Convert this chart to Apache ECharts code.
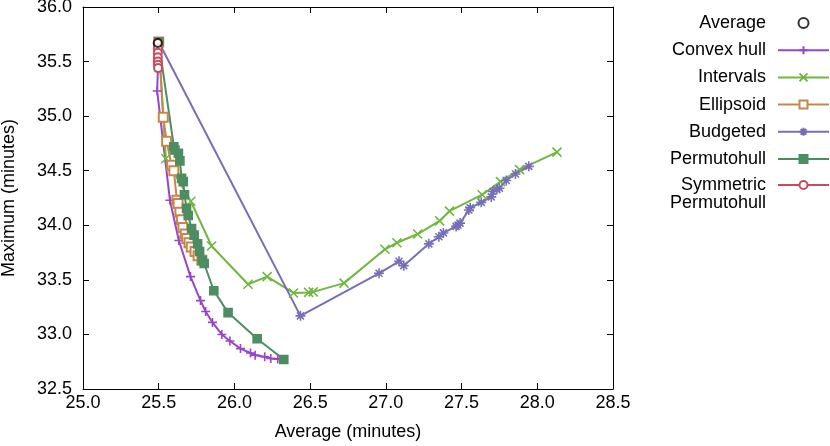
<!DOCTYPE html>
<html>
<head>
<meta charset="utf-8">
<script src="https://cdn.jsdelivr.net/npm/echarts@6/dist/echarts.min.js"></script>
<style>html,body{margin:0;padding:0;background:#fff;}#c{width:830px;height:446px;}</style>
</head>
<body>
<div id="c"></div>
<script>
const seriesNames = ['Average', 'Convex hull', 'Intervals', 'Ellipsoid', 'Budgeted', 'Permutohull', 'Symmetric Permutohull'];
const xTicks = [25.0, 25.5, 26.0, 26.5, 27.0, 27.5, 28.0, 28.5];
const yTicks = [32.5, 33.0, 33.5, 34.0, 34.5, 35.0, 35.5, 36.0];

const averageX = [25.494];
const averageY = [35.67];

const convexX = [25.50, 25.49, 25.574, 25.633, 25.71, 25.776, 25.81, 25.855, 25.917, 25.97, 26.04, 26.106, 26.137, 26.20, 26.24, 26.286, 26.32];
const convexY = [35.68, 35.23, 34.23, 33.86, 33.53, 33.31, 33.21, 33.11, 33.00, 32.94, 32.87, 32.83, 32.81, 32.795, 32.78, 32.775, 32.77];

const intervalsX = [25.50, 25.547, 25.712, 25.849, 26.09, 26.216, 26.39, 26.49, 26.52, 26.724, 26.994, 27.073, 27.21, 27.355, 27.42, 27.636, 27.757, 27.883, 28.13];
const intervalsY = [35.68, 34.61, 34.22, 33.81, 33.46, 33.53, 33.38, 33.385, 33.39, 33.47, 33.78, 33.84, 33.92, 34.04, 34.13, 34.28, 34.40, 34.51, 34.67];

const ellipsoidX = [25.50, 25.53, 25.552, 25.585, 25.60, 25.62, 25.628, 25.64, 25.65, 25.66, 25.675, 25.685, 25.70, 25.715, 25.74, 25.76, 25.785];
const ellipsoidY = [35.68, 34.99, 34.77, 34.55, 34.50, 34.23, 34.20, 34.12, 34.05, 33.98, 33.92, 33.88, 33.84, 33.80, 33.76, 33.72, 33.68];

const budgetedX = [25.50, 26.436, 26.955, 27.087, 27.118, 27.284, 27.35, 27.38, 27.464, 27.476, 27.49, 27.548, 27.557, 27.63, 27.696, 27.707, 27.733, 27.75, 27.795, 27.856, 27.944];
const budgetedY = [35.68, 33.17, 33.56, 33.67, 33.63, 33.83, 33.895, 33.93, 33.99, 34.00, 34.02, 34.14, 34.16, 34.21, 34.26, 34.31, 34.33, 34.34, 34.41, 34.47, 34.54];

const permutoX = [25.50, 25.60, 25.607, 25.63, 25.64, 25.651, 25.662, 25.67, 25.684, 25.695, 25.717, 25.734, 25.757, 25.77, 25.787, 25.80, 25.864, 25.958, 26.15, 26.326];
const permutoY = [35.68, 34.72, 34.69, 34.66, 34.59, 34.43, 34.40, 34.28, 34.155, 34.09, 33.97, 33.91, 33.83, 33.76, 33.68, 33.65, 33.40, 33.20, 32.96, 32.77];

const symPermX = [25.494, 25.494, 25.494, 25.494, 25.494, 25.495, 25.496];
const symPermY = [35.67, 35.62, 35.58, 35.54, 35.50, 35.47, 35.44];

const colors = {
  avg: '#000000', convex: '#9944cc', intervals: '#6fb83f', ellipsoid: '#c8874a',
  budgeted: '#776fb5', permuto: '#4e8c62', sym: '#c94a5c'
};

function zip(xs, ys) { return xs.map((x, i) => [x, ys[i]]); }

const FONT = 'Liberation Sans, Arial, sans-serif';
const FS = 18;

const plusPath = 'path://M0,5L10,5M5,0L5,10';
const crossPath = 'path://M0,0L10,10M10,0L0,10';
const starPath = 'path://M0,5L10,5M5,0L5,10M1.5,1.5L8.5,8.5M8.5,1.5L1.5,8.5';

function lineSeries(name, data, color, symbol, size, stroked, z) {
  return {
    name, type: 'line', data, symbol, symbolSize: size, z: z || 2,
    lineStyle: { color, width: 2 },
    itemStyle: stroked ? { color: 'rgba(0,0,0,0)', borderColor: color, borderWidth: 1.6 } : { color, borderColor: color, borderWidth: 1.6 },
    emphasis: { disabled: true }, animation: false
  };
}

const chart = echarts.init(document.getElementById('c'), null, { renderer: 'canvas' });

const axisCommon = {
  interval: 0.5,
  axisLine: { show: true, lineStyle: { color: '#000', width: 1 } },
  axisTick: { show: true, inside: true, length: 6, lineStyle: { color: '#000', width: 1 } },
  splitLine: { show: false }
};

const legendText = { fontFamily: FONT, fontSize: FS, color: '#000', lineHeight: 18, padding: [0, 7, 0, 0] };

chart.setOption({
  animation: false,
  backgroundColor: '#fff',
  textStyle: { fontFamily: FONT },
  grid: { left: 83, right: 217, top: 7, bottom: 57, containLabel: false, outerBoundsMode: 'none' },
  legend: [
    {
      orient: 'vertical', right: 0, top: 14, padding: 0, align: 'right',
      itemWidth: 51, itemHeight: 10, itemGap: 9.2, selectedMode: false,
      data: seriesNames.slice(0, 6), textStyle: legendText
    },
    {
      orient: 'vertical', right: 0, top: 158, padding: 0, align: 'right',
      itemWidth: 51, itemHeight: 10, itemGap: 9.2, selectedMode: false,
      data: [seriesNames[6]],
      formatter: () => '\nSymmetric\nPermutohull',
      textStyle: legendText
    }
  ],
  xAxis: [
    Object.assign({}, axisCommon, {
      type: 'value', position: 'bottom', min: xTicks[0], max: xTicks[xTicks.length - 1],
      name: 'Average (minutes)', nameLocation: 'middle', nameGap: 34,
      nameTextStyle: { fontFamily: FONT, fontSize: FS, color: '#000' },
      axisLabel: { fontFamily: FONT, fontSize: FS, color: '#000', margin: 5, formatter: v => v.toFixed(1) }
    }),
    Object.assign({}, axisCommon, {
      type: 'value', position: 'top', min: xTicks[0], max: xTicks[xTicks.length - 1],
      axisLabel: { show: false }
    })
  ],
  yAxis: [
    Object.assign({}, axisCommon, {
      type: 'value', position: 'left', min: yTicks[0], max: yTicks[yTicks.length - 1],
      name: 'Maximum (minutes)', nameLocation: 'middle', nameGap: 65,
      nameTextStyle: { fontFamily: FONT, fontSize: FS, color: '#000' },
      axisLabel: { fontFamily: FONT, fontSize: FS, color: '#000', margin: 11, formatter: v => v.toFixed(1) }
    }),
    Object.assign({}, axisCommon, {
      type: 'value', position: 'right', min: yTicks[0], max: yTicks[yTicks.length - 1],
      axisLabel: { show: false }
    })
  ],
  series: [
    lineSeries(seriesNames[1], zip(convexX, convexY), colors.convex, plusPath, 9, true),
    lineSeries(seriesNames[2], zip(intervalsX, intervalsY), colors.intervals, crossPath, 9, true),
    lineSeries(seriesNames[3], zip(ellipsoidX, ellipsoidY), colors.ellipsoid, 'emptyRect', 9, false),
    lineSeries(seriesNames[4], zip(budgetedX, budgetedY), colors.budgeted, starPath, 10, true),
    lineSeries(seriesNames[5], zip(permutoX, permutoY), colors.permuto, 'rect', 8, false),
    lineSeries(seriesNames[6], zip(symPermX, symPermY), colors.sym, 'emptyCircle', 8, false),
    {
      name: seriesNames[0], type: 'scatter', data: zip(averageX, averageY), z: 5,
      symbol: 'emptyCircle', symbolSize: 8,
      itemStyle: { color: '#000', borderColor: '#000', borderWidth: 2.2 },
      emphasis: { disabled: true }, animation: false
    }
  ]
});
</script>
</body>
</html>
